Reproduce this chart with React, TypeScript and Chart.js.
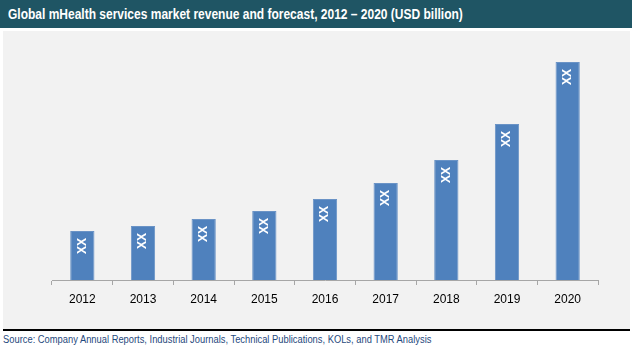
import React, { useEffect, useRef } from "react";
import { Chart, registerables } from "chart.js";

Chart.register(...registerables);

const years = ["2012", "2013", "2014", "2015", "2016", "2017", "2018", "2019", "2020"];
const revenue = [4.9, 5.4, 6.1, 6.9, 8.1, 9.7, 12.0, 15.6, 21.8];
const barLabels = ["XX", "XX", "XX", "XX", "XX", "XX", "XX", "XX", "XX"];

const titleText = "Global mHealth services market revenue and forecast, 2012 \u2013 2020 (USD billion)";
const sourceText = "Source: Company Annual Reports, Industrial Journals, Technical Publications, KOLs, and TMR Analysis";

const barLabelPlugin = {
  id: "barLabelPlugin",
  afterDatasetsDraw(chart: any) {
    const ctx = chart.ctx;
    const meta = chart.getDatasetMeta(0);
    ctx.save();
    ctx.fillStyle = "#ffffff";
    ctx.font = "bold 12px 'Liberation Sans', Arial, sans-serif";
    ctx.textAlign = "center";
    ctx.textBaseline = "middle";
    meta.data.forEach((bar: any, i: number) => {
      ctx.save();
      ctx.translate(bar.x, bar.y + 15);
      ctx.rotate(-Math.PI / 2);
      ctx.fillText(barLabels[i], 0, 0);
      ctx.restore();
    });
    ctx.restore();
  },
};

export default function App() {
  const ref = useRef<HTMLCanvasElement | null>(null);
  useEffect(() => {
    document.body.style.margin = "0";
    const chart = new Chart(ref.current as HTMLCanvasElement, {
      type: "bar",
      data: {
        labels: years,
        datasets: [
          {
            data: revenue,
            backgroundColor: "#4f81bd",
            borderColor: "#6a93c6",
            borderWidth: 1,
            categoryPercentage: 1,
            barPercentage: 0.4,
          },
        ],
      },
      options: {
        animation: false,
        responsive: false,
        maintainAspectRatio: false,
        layout: { padding: { top: 9, left: 52, right: 34, bottom: 19 } },
        plugins: { legend: { display: false }, tooltip: { enabled: false } },
        scales: {
          y: { display: false, min: 0, max: 24 },
          x: {
            afterFit: (scale: any) => {
              scale.height = 30;
            },
            border: { color: "#a6a6a6", width: 1 },
            grid: { drawOnChartArea: false, tickLength: 5, color: "#a6a6a6" },
            ticks: {
              color: "#000000",
              padding: 7,
              font: { family: "'Liberation Sans', Arial, sans-serif", size: 12 },
            },
          },
        },
      },
      plugins: [barLabelPlugin],
    });
    return () => chart.destroy();
  }, []);

  return (
    <div style={{ position: "relative", width: 632, height: 352, background: "#ffffff", overflow: "hidden" }}>
      <div
        style={{
          position: "absolute",
          left: 0,
          top: 0,
          width: 632,
          height: 28,
          background: "#1f5564",
        }}
      />
      <div
        style={{
          position: "absolute",
          left: 8,
          top: 0,
          height: 28,
          color: "#ffffff",
          fontFamily: "'Liberation Sans', Arial, sans-serif",
          fontWeight: "bold",
          fontSize: 15,
          lineHeight: "28px",
          whiteSpace: "nowrap",
          transform: "scaleX(0.8)",
          transformOrigin: "0 0",
        }}
      >
        {titleText}
      </div>
      <div style={{ position: "absolute", left: 3, top: 31, width: 627, height: 298, background: "#f2f2f2" }} />
      <canvas
        ref={ref}
        width={632}
        height={298}
        style={{ position: "absolute", left: 0, top: 31, width: 632, height: 298 }}
      />
      <div style={{ position: "absolute", left: 3, top: 329, width: 627, height: 2, background: "#000000" }} />
      <div
        style={{
          position: "absolute",
          left: 3,
          top: 334,
          color: "#1f497d",
          fontFamily: "'Liberation Sans', Arial, sans-serif",
          fontSize: 10,
          whiteSpace: "nowrap",
          transform: "scaleX(0.935)",
          transformOrigin: "0 0",
        }}
      >
        {sourceText}
      </div>
    </div>
  );
}
